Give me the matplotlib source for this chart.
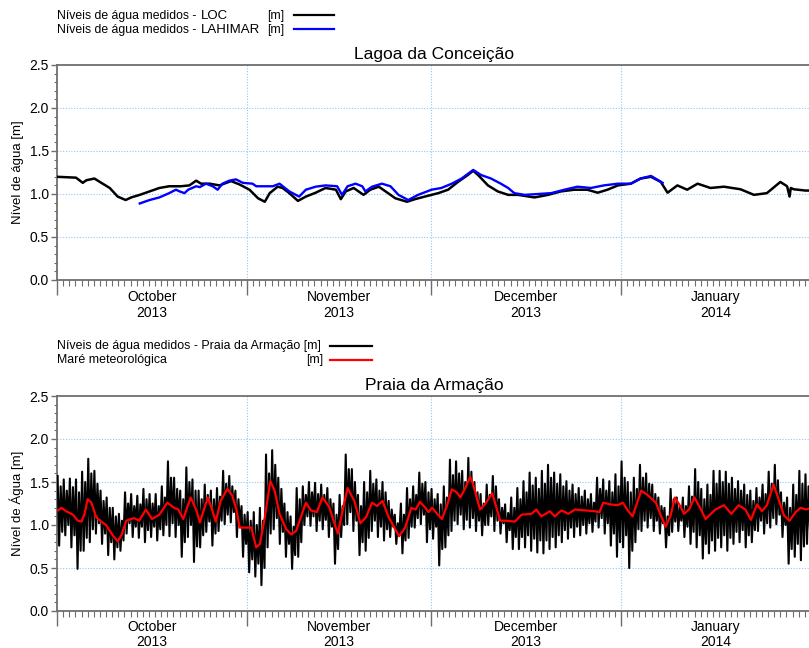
import datetime as dt
import matplotlib
matplotlib.use("Agg")
import matplotlib.pyplot as plt
import matplotlib.dates as mdates
from matplotlib.lines import Line2D
import numpy as np

plt.rcParams['font.family'] = ['Liberation Sans', 'DejaVu Sans']

START = dt.datetime(2013, 10, 1)
END = dt.datetime(2014, 2, 1)
months = [dt.datetime(2013, 10, 1), dt.datetime(2013, 11, 1), dt.datetime(2013, 12, 1),
          dt.datetime(2014, 1, 1), dt.datetime(2014, 2, 1)]
month_names = ["October", "November", "December", "January"]
month_years = ["2013", "2013", "2013", "2014"]

# ---- Lagoa da Conceição: water levels (days since 2013-10-01, metres) ----
loc_day = [0, 3.1, 4.2, 4.8, 6.1, 7.0, 8.6, 9.9, 11.2, 12.1, 13.5, 15.1, 16.7, 18.3, 20.2, 21.6,
           22.7, 23.5, 24.9, 26.5, 28.4, 29.8, 31.4, 32.8, 33.9, 34.7, 36.0, 36.8, 37.9, 39.3,
           40.6, 42.2, 43.8, 45.5, 46.3, 47.1, 48.4, 50.0, 51.1, 52.5, 53.6, 55.2, 57.1, 58.4,
           60.0, 62.2, 63.8, 65.4, 67.0, 67.9, 68.7, 70.3, 71.9, 73.6, 75.2, 77.9, 80.1, 82.2,
           84.4, 86.5, 88.2, 89.8, 91.5, 93.6, 95.2, 96.9, 98.5, 99.6, 101.2, 102.8, 104.5,
           106.6, 108.8, 111.5, 113.7, 115.8, 118.0, 119.1, 119.5, 119.7, 120.2, 122.1, 123.0]
loc_val = [1.20, 1.19, 1.13, 1.16, 1.18, 1.14, 1.07, 0.97, 0.93, 0.96, 0.99, 1.03, 1.07, 1.09,
           1.09, 1.10, 1.155, 1.12, 1.12, 1.10, 1.15, 1.11, 1.05, 0.95, 0.91, 1.01, 1.085, 1.07,
           1.01, 0.92, 0.97, 1.015, 1.07, 1.05, 0.94, 1.03, 1.07, 0.99, 1.05, 1.085, 1.03, 0.95,
           0.91, 0.94, 0.97, 1.01, 1.05, 1.14, 1.22, 1.27, 1.22, 1.10, 1.03, 0.99, 0.99, 0.96,
           0.99, 1.03, 1.05, 1.05, 1.015, 1.05, 1.10, 1.12, 1.18, 1.20, 1.14, 1.015, 1.10, 1.05,
           1.12, 1.07, 1.085, 1.055, 0.99, 1.01, 1.14, 1.09, 0.97, 1.07, 1.055, 1.04, 1.04]

lah_day = [13.5, 15.1, 16.7, 18.3, 19.4, 20.0, 20.8, 21.4, 22.7, 23.3, 24.3, 25.4, 26.2, 27.0,
           28.1, 29.2, 30.3, 31.9, 32.5, 35.2, 36.3, 37.9, 39.5, 40.6, 42.2, 43.8, 45.7, 46.5,
           47.4, 48.7, 49.8, 50.3, 51.4, 53.0, 54.4, 55.7, 57.3, 58.9, 61.1, 62.7, 64.4, 66.0,
           67.9, 69.2, 70.8, 72.4, 73.6, 74.6, 76.3, 78.5, 80.6, 82.8, 84.9, 87.1, 89.2, 91.5,
           93.6, 95.2, 96.9, 98.8]
lah_val = [0.89, 0.93, 0.96, 1.01, 1.05, 1.03, 1.01, 1.05, 1.09, 1.08, 1.12, 1.09, 1.05, 1.12,
           1.155, 1.17, 1.13, 1.12, 1.09, 1.09, 1.12, 1.03, 0.97, 1.05, 1.085, 1.10, 1.09, 0.99,
           1.09, 1.12, 1.09, 1.03, 1.085, 1.12, 1.09, 0.99, 0.93, 0.99, 1.05, 1.07, 1.12, 1.18,
           1.28, 1.22, 1.18, 1.12, 1.07, 1.01, 0.99, 1.00, 1.01, 1.05, 1.085, 1.07, 1.10, 1.12,
           1.12, 1.18, 1.21, 1.13]

# ---- Praia da Armação: tide extremes per day (Oct 1 .. Jan 31) ----
high_1 = [1.57, 1.53, 1.54, 1.53, 1.62, 1.77, 1.63, 1.40, 1.32, 1.20, 1.13, 1.38, 1.36, 1.34,
          1.42, 1.36, 1.36, 1.45, 1.74, 1.55, 1.40, 1.67, 1.53, 1.40, 1.47, 1.40, 1.43, 1.63,
          1.57, 1.40, 1.22, 1.15, 1.15, 1.20, 1.82, 1.87, 1.55, 1.25, 1.10, 1.43, 1.45, 1.50,
          1.49, 1.47, 1.43, 1.25, 1.35, 1.82, 1.65, 1.35, 1.50, 1.63, 1.53, 1.50, 1.28, 1.12,
          1.25, 1.43, 1.45, 1.61, 1.50, 1.42, 1.36, 1.45, 1.76, 1.74, 1.63, 1.78, 1.50, 1.36,
          1.47, 1.57, 1.30, 1.24, 1.32, 1.43, 1.51, 1.61, 1.55, 1.63, 1.70, 1.61, 1.59, 1.51,
          1.47, 1.43, 1.40, 1.36, 1.55, 1.53, 1.51, 1.59, 1.74, 1.50, 1.55, 1.70, 1.60, 1.47,
          1.32, 1.20, 1.42, 1.32, 1.32, 1.45, 1.65, 1.42, 1.47, 1.63, 1.63, 1.62, 1.55, 1.51,
          1.47, 1.40, 1.43, 1.47, 1.62, 1.70, 1.38, 1.32, 1.47, 1.63, 1.59]
low_1 = [0.76, 0.88, 0.74, 0.49, 0.70, 0.80, 0.90, 0.78, 0.65, 0.60, 0.70, 0.90, 0.86, 0.85,
         0.80, 0.86, 0.82, 0.88, 0.87, 0.86, 0.63, 0.86, 0.57, 0.74, 0.92, 0.76, 0.93, 1.01,
         1.03, 0.86, 0.63, 0.45, 0.40, 0.30, 0.74, 0.95, 0.78, 0.63, 0.49, 0.63, 1.00, 0.99,
         0.93, 0.95, 0.86, 0.55, 0.86, 1.01, 0.93, 0.65, 0.70, 0.93, 0.86, 0.82, 0.86, 0.78,
         0.67, 0.85, 0.97, 1.01, 0.80, 0.84, 0.53, 0.74, 0.93, 1.01, 0.95, 0.97, 0.93, 0.88,
         1.00, 0.93, 0.90, 0.80, 0.72, 0.72, 0.74, 0.70, 0.68, 0.67, 0.72, 0.74, 0.80, 0.84,
         0.86, 0.88, 0.90, 0.92, 0.97, 0.90, 0.76, 0.63, 0.74, 0.50, 0.80, 0.93, 0.97, 0.93,
         0.90, 0.74, 0.92, 0.93, 0.86, 0.78, 0.74, 0.61, 0.67, 0.70, 0.74, 0.70, 0.78, 0.80,
         0.74, 0.80, 0.93, 0.90, 0.97, 1.01, 0.86, 0.55, 0.63, 0.59, 0.78]
high_2 = [1.45, 1.40, 1.44, 1.38, 1.50, 1.60, 1.48, 1.28, 1.20, 1.10, 1.05, 1.25, 1.22, 1.24,
          1.30, 1.25, 1.22, 1.32, 1.55, 1.42, 1.30, 1.50, 1.40, 1.30, 1.35, 1.30, 1.33, 1.48,
          1.45, 1.30, 1.12, 1.05, 1.00, 1.05, 1.60, 1.70, 1.42, 1.15, 0.98, 1.30, 1.35, 1.38,
          1.36, 1.35, 1.30, 1.12, 1.22, 1.65, 1.50, 1.22, 1.38, 1.48, 1.40, 1.38, 1.18, 1.02,
          1.12, 1.30, 1.35, 1.48, 1.38, 1.30, 1.24, 1.32, 1.58, 1.60, 1.50, 1.62, 1.38, 1.25,
          1.35, 1.45, 1.20, 1.14, 1.20, 1.30, 1.38, 1.46, 1.42, 1.48, 1.55, 1.48, 1.45, 1.40,
          1.36, 1.33, 1.30, 1.26, 1.42, 1.40, 1.38, 1.45, 1.55, 1.38, 1.42, 1.55, 1.48, 1.36,
          1.22, 1.10, 1.30, 1.22, 1.22, 1.33, 1.50, 1.30, 1.35, 1.48, 1.50, 1.48, 1.42, 1.40,
          1.35, 1.28, 1.32, 1.36, 1.48, 1.52, 1.26, 1.20, 1.35, 1.48, 1.45]
low_2 = [0.92, 1.00, 0.88, 0.70, 0.85, 0.95, 1.02, 0.90, 0.80, 0.74, 0.82, 1.02, 0.98, 0.98,
         0.94, 0.98, 0.95, 1.00, 1.02, 1.00, 0.80, 1.00, 0.75, 0.88, 1.04, 0.90, 1.05, 1.12,
         1.15, 0.98, 0.78, 0.60, 0.55, 0.50, 0.90, 1.08, 0.92, 0.78, 0.65, 0.80, 1.10, 1.10,
         1.05, 1.06, 0.98, 0.72, 1.00, 1.15, 1.05, 0.80, 0.85, 1.05, 0.98, 0.95, 0.98, 0.90,
         0.82, 0.98, 1.08, 1.12, 0.95, 0.98, 0.72, 0.88, 1.05, 1.12, 1.06, 1.08, 1.05, 1.00,
         1.10, 1.05, 1.02, 0.94, 0.86, 0.86, 0.88, 0.84, 0.82, 0.82, 0.86, 0.88, 0.94, 0.97,
         0.98, 1.00, 1.02, 1.04, 1.08, 1.02, 0.90, 0.80, 0.88, 0.70, 0.95, 1.05, 1.08, 1.05,
         1.02, 0.88, 1.04, 1.05, 0.98, 0.92, 0.88, 0.78, 0.82, 0.85, 0.88, 0.85, 0.92, 0.94,
         0.88, 0.94, 1.05, 1.02, 1.08, 1.12, 1.00, 0.72, 0.78, 0.75, 0.92]

# Meteorological tide (residual)
met_day = [0.2, 0.7, 1.5, 2.6, 3.4, 4.0, 4.5, 5.0, 5.6, 6.4, 7.2, 8.0, 9.1, 9.9, 10.5, 11.3,
           12.1, 12.6, 13.4, 14.5, 15.5, 16.7, 18.0, 19.1, 19.8, 20.6, 21.8, 22.7, 23.3, 24.6,
           25.3, 25.9, 26.7, 27.8, 28.6, 29.3, 29.8, 31.7, 32.5, 33.1, 33.9, 34.8, 35.5, 36.3,
           37.4, 38.2, 39.0, 40.6, 41.4, 42.4, 43.3, 44.4, 45.8, 46.6, 47.4, 48.5, 49.5, 50.4,
           51.4, 52.2, 53.1, 54.1, 55.8, 56.8, 57.8, 58.5, 59.2, 60.1, 60.6, 61.2, 62.0, 62.8,
           63.6, 64.4, 65.2, 65.8, 66.6, 67.4, 67.9, 69.0, 69.8, 71.0, 71.7, 72.3, 73.1, 74.7,
           75.8, 77.4, 78.2, 79.0, 80.4, 81.2, 82.3, 83.4, 84.5, 86.1, 87.7, 88.5, 89.1, 90.2,
           91.5, 92.3, 93.1, 93.9, 95.3, 96.3, 97.7, 98.5, 99.3, 100.1, 100.8, 101.5, 102.3,
           103.1, 104.0, 104.9, 105.8, 107.4, 108.8, 110.0, 111.2, 112.3, 113.2, 114.2, 115.0,
           115.8, 116.9, 117.7, 118.6, 119.5, 120.5, 121.3, 122.2, 123.0]
met_val = [1.17, 1.20, 1.16, 1.12, 1.05, 1.04, 1.13, 1.30, 1.26, 1.09, 1.04, 1.00, 0.88, 0.81,
           0.88, 1.05, 1.07, 1.08, 1.05, 1.18, 1.07, 1.12, 1.26, 1.20, 1.18, 1.07, 1.32, 1.18,
           1.03, 1.32, 1.18, 1.04, 1.28, 1.42, 1.34, 1.17, 0.97, 0.97, 0.74, 0.78, 1.09, 1.51,
           1.40, 1.13, 0.95, 0.89, 0.93, 1.26, 1.17, 1.15, 1.32, 1.21, 0.90, 1.17, 1.43, 1.28,
           1.02, 1.09, 1.26, 1.22, 1.28, 1.09, 0.87, 0.97, 1.20, 1.18, 1.27, 1.20, 1.15, 1.20,
           1.13, 1.07, 1.22, 1.415, 1.38, 1.32, 1.43, 1.56, 1.47, 1.18, 1.24, 1.37, 1.20, 1.05,
           1.05, 1.04, 1.12, 1.13, 1.18, 1.10, 1.16, 1.10, 1.17, 1.13, 1.18, 1.17, 1.16, 1.15,
           1.26, 1.24, 1.23, 1.26, 1.17, 1.10, 1.40, 1.35, 1.26, 1.11, 0.98, 1.11, 1.32, 1.24,
           1.13, 1.18, 1.32, 1.20, 1.07, 1.18, 1.23, 1.13, 1.23, 1.18, 1.06, 1.24, 1.16, 1.23,
           1.47, 1.30, 1.11, 1.05, 1.15, 1.20, 1.18, 1.20]

GRID_C = '#8ec5ff'
SPINE_C = '#6e6e6e'
base = mdates.date2num(START)


def to_num(days):
    return base + np.asarray(days, dtype=float)


def style_axes(ax, ylabel, title, name_off, year_off):
    ax.set_xlim(mdates.date2num(START), mdates.date2num(END))
    ax.set_ylim(0.0, 2.5)
    ax.set_yticks([0.0, 0.5, 1.0, 1.5, 2.0, 2.5])
    ax.set_yticklabels(["0.0", "0.5", "1.0", "1.5", "2.0", "2.5"], fontsize=10)
    ax.set_yticks(np.arange(0, 2.51, 0.1), minor=True)
    ax.set_xticks([mdates.date2num(m) for m in months])
    ax.set_xticklabels([])
    ax.xaxis.set_minor_locator(mdates.DayLocator())
    ax.tick_params(axis='x', which='major', direction='out', length=11, width=1.0, color=SPINE_C)
    ax.tick_params(axis='x', which='minor', direction='out', length=4, width=0.8, color=SPINE_C)
    ax.tick_params(axis='y', which='major', direction='out', length=4, width=1.0, color=SPINE_C, pad=2)
    ax.tick_params(axis='y', which='minor', direction='out', length=2.5, width=0.8, color=SPINE_C)
    for s in ('top', 'left', 'bottom'):
        ax.spines[s].set_color(SPINE_C)
        ax.spines[s].set_linewidth(1.3)
    ax.spines['right'].set_visible(False)
    for y in (0.5, 1.0, 1.5, 2.0):
        ax.axhline(y, color=GRID_C, lw=0.8, ls=(0, (1, 1.5)), zorder=0)
    for m in months[1:4]:
        ax.axvline(mdates.date2num(m), color=GRID_C, lw=0.8, ls=(0, (1, 1.5)), zorder=0)
    ax.set_ylabel(ylabel, fontsize=9.5, labelpad=4)
    ax.set_title(title, fontsize=12.5, pad=4)
    for i in range(4):
        mid = (mdates.date2num(months[i]) + mdates.date2num(months[i + 1])) / 2
        for txt, off in ((month_names[i], name_off), (month_years[i], year_off)):
            ax.annotate(txt, xy=(mid, 0), xycoords=('data', 'axes fraction'),
                        xytext=(0, -off * 0.72), textcoords='offset points',
                        ha='center', va='center', fontsize=10)


fig = plt.figure(figsize=(8.09, 6.48), dpi=100)
W, H = 809.0, 648.0
left = 57 / W
width = (811 - 57) / W
ax1 = fig.add_axes([left, 1 - 280 / H, width, (280 - 65) / H])
ax2 = fig.add_axes([left, 1 - 611 / H, width, (611 - 396) / H])

style_axes(ax1, "Nível de água [m]", "Lagoa da Conceição", 17, 33)
ax1.plot(to_num(loc_day), loc_val, color='black', lw=1.8, zorder=3)
ax1.plot(to_num(lah_day), lah_val, color='#0000ff', lw=1.7, zorder=4)

style_axes(ax2, "Nível de Água [m]", "Praia da Armação", 16, 30.5)
n = len(high_1)
t_tide, v_tide = [], []
for d in range(n):
    t_tide += [d + 0.1, d + 0.35, d + 0.6, d + 0.85]
    v_tide += [high_1[d], low_1[d], high_2[d], low_2[d]]
ax2.plot(to_num(t_tide), v_tide, color='black', lw=1.5, zorder=3)
ax2.plot(to_num(met_day), met_val, color='#ff0000', lw=1.6, zorder=4)


# Legends drawn as text rows with line samples
def fx(x):
    return x / W


def fy(y):
    return 1 - y / H


def sample(x0, x1, y, color):
    fig.add_artist(Line2D([fx(x0), fx(x1)], [fy(y), fy(y)], color=color, lw=1.6,
                          transform=fig.transFigure))


for base_y, line_y, station, color in ((19, 14.5, "LOC", 'black'), (33, 28.5, "LAHIMAR", '#0000ff')):
    fig.text(fx(57), fy(base_y), "Níveis de água medidos - ", fontsize=8.8, va='baseline')
    fig.text(fx(201), fy(base_y), station, fontsize=9.5, va='baseline')
    fig.text(fx(267), fy(base_y), "[m]", fontsize=8.8, va='baseline')
    sample(294, 334, line_y, color)

fig.text(fx(57), fy(349.5), "Níveis de água medidos - Praia da Armação [m]", fontsize=8.9,
         va='baseline')
sample(330, 372, 345.7, 'black')
fig.text(fx(57), fy(363.5), "Maré meteorológica", fontsize=8.9, va='baseline')
fig.text(fx(323), fy(363.5), "[m]", fontsize=8.9, ha='right', va='baseline')
sample(330, 372, 359.5, '#ff0000')

fig.savefig("out.png", dpi=100, facecolor='white')
